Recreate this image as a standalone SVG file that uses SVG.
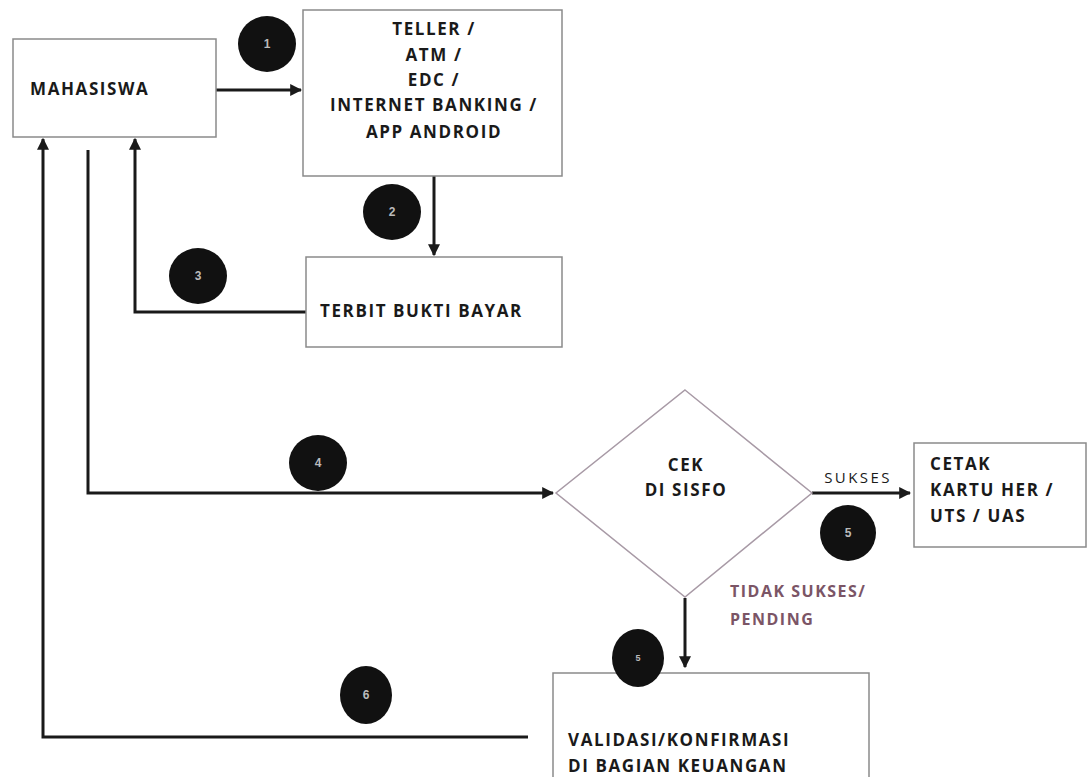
<svg xmlns="http://www.w3.org/2000/svg" width="1089" height="777" viewBox="0 0 1089 777">
<defs>
<style>
.box{fill:#fff;stroke:#8a8a8a;stroke-width:1.5}
.t{font-family:"Open Sans","Liberation Sans",sans-serif;font-weight:bold;font-size:17px;letter-spacing:1.6px;fill:#1a1a1a}
.c{text-anchor:middle}
.ln{fill:none;stroke:#1a1a1a;stroke-width:3}
.dot{fill:#111}
.n{font-family:"Liberation Sans",sans-serif;font-size:12px;font-weight:bold;fill:#bbb;text-anchor:middle}
.lbl{font-family:"Open Sans","Liberation Sans",sans-serif;font-size:16px;letter-spacing:1.5px;fill:#7b5566;font-weight:bold}
</style>
<marker id="ah" viewBox="0 0 10 10" refX="9" refY="5" markerWidth="4" markerHeight="4" orient="auto-start-reverse">
<path d="M0,0 L10,5 L0,10 z" fill="#1a1a1a"/>
</marker>
</defs>
<rect width="1089" height="777" fill="#fff"/>

<g id="connectors">
<path class="ln" d="M216,90 H301" marker-end="url(#ah)"/>
<path class="ln" d="M434,176 V255" marker-end="url(#ah)"/>
<path class="ln" d="M306,312 H135 V139" marker-end="url(#ah)"/>
<path class="ln" d="M88,150 V493 H553" marker-end="url(#ah)"/>
<path class="ln" d="M812,493 H910" marker-end="url(#ah)"/>
<path class="ln" d="M685,598 V667" marker-end="url(#ah)"/>
<path class="ln" d="M528,737 H43 V139" marker-end="url(#ah)"/>
<text x="858" y="483" text-anchor="middle" style="font-family:'Open Sans','Liberation Sans',sans-serif;font-size:15px;letter-spacing:2.4px;fill:#1a1a1a">SUKSES</text>
<text class="lbl" x="730" y="597">TIDAK SUKSES/</text>
<text class="lbl" x="730" y="625">PENDING</text>
</g>

<g id="mahasiswa">
<rect class="box" x="13" y="39" width="203" height="98"/>
<text class="t" x="30" y="95">MAHASISWA</text>
</g>

<g id="teller">
<rect class="box" x="303" y="10" width="259" height="166"/>
<text class="t c" x="434" y="35">TELLER /</text>
<text class="t c" x="434" y="61">ATM /</text>
<text class="t c" x="434" y="86">EDC /</text>
<text class="t c" x="434" y="111">INTERNET BANKING /</text>
<text class="t c" x="434" y="138">APP ANDROID</text>
</g>

<g id="terbit">
<rect class="box" x="306" y="257" width="256" height="90"/>
<text class="t" x="320" y="317">TERBIT BUKTI BAYAR</text>
</g>

<g id="cek">
<polygon points="685,390 812,493 685,597 556,493" fill="#fff" stroke="#a89aa6" stroke-width="1.5"/>
<text class="t c" x="686" y="471">CEK</text>
<text class="t c" x="686" y="496">DI SISFO</text>
</g>

<g id="cetak">
<rect class="box" x="914" y="443" width="172" height="104"/>
<text class="t" x="930" y="470">CETAK</text>
<text class="t" x="930" y="496">KARTU HER /</text>
<text class="t" x="930" y="522">UTS / UAS</text>
</g>

<g id="validasi">
<rect class="box" x="553" y="673" width="316" height="120"/>
<text class="t" x="568" y="746">VALIDASI/KONFIRMASI</text>
<text class="t" x="568" y="772">DI BAGIAN KEUANGAN</text>
</g>

<g id="badges">
<ellipse class="dot" cx="267" cy="44" rx="29" ry="28"/><text class="n" x="267" y="48">1</text>
<ellipse class="dot" cx="392" cy="212" rx="29" ry="28"/><text class="n" x="392" y="216">2</text>
<ellipse class="dot" cx="198" cy="276" rx="29" ry="28"/><text class="n" x="198" y="280">3</text>
<ellipse class="dot" cx="318" cy="463" rx="29" ry="28"/><text class="n" x="318" y="467">4</text>
<ellipse class="dot" cx="848" cy="533" rx="28" ry="28"/><text class="n" x="848" y="537">5</text>
<ellipse class="dot" cx="638" cy="658" rx="26" ry="29"/><text class="n" x="638" y="661" style="font-size:9px">5</text>
<ellipse class="dot" cx="366" cy="695" rx="26" ry="29"/><text class="n" x="366" y="699">6</text>
</g>
</svg>
